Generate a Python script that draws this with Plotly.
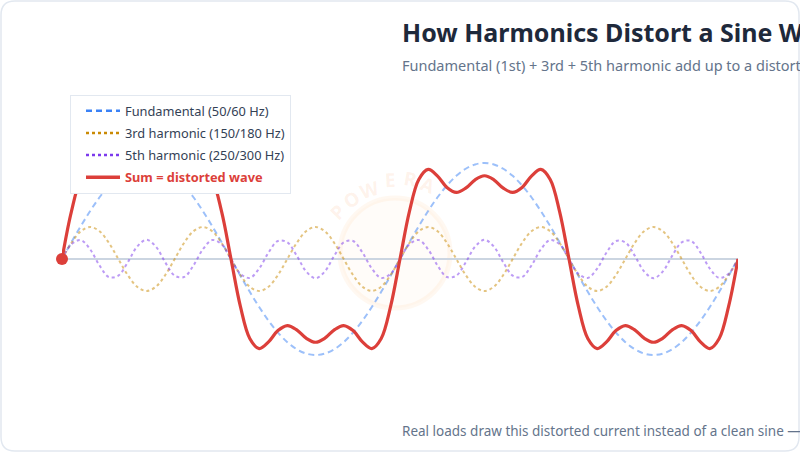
import plotly.graph_objects as go

# Phase in degrees (two full cycles of the fundamental)
phase_deg = [0, 10, 20, 30, 40, 50, 60, 70, 80, 90, 100, 110, 120, 130, 140, 150, 160, 170,
             180, 190, 200, 210, 220, 230, 240, 250, 260, 270, 280, 290, 300, 310, 320, 330, 340, 350,
             360, 370, 380, 390, 400, 410, 420, 430, 440, 450, 460, 470, 480, 490, 500, 510, 520, 530,
             540, 550, 560, 570, 580, 590, 600, 610, 620, 630, 640, 650, 660, 670, 680, 690, 700, 710, 720]

fundamental = [0, .174, .342, .5, .643, .766, .866, .94, .985, 1, .985, .94, .866, .766, .643, .5, .342, .174,
               0, -.174, -.342, -.5, -.643, -.766, -.866, -.94, -.985, -1, -.985, -.94, -.866, -.766, -.643, -.5, -.342, -.174,
               0, .174, .342, .5, .643, .766, .866, .94, .985, 1, .985, .94, .866, .766, .643, .5, .342, .174,
               0, -.174, -.342, -.5, -.643, -.766, -.866, -.94, -.985, -1, -.985, -.94, -.866, -.766, -.643, -.5, -.342, -.174, 0]

third = [0, .167, .289, .333, .289, .167, 0, -.167, -.289, -.333, -.289, -.167, 0, .167, .289, .333, .289, .167,
         0, -.167, -.289, -.333, -.289, -.167, 0, .167, .289, .333, .289, .167, 0, -.167, -.289, -.333, -.289, -.167,
         0, .167, .289, .333, .289, .167, 0, -.167, -.289, -.333, -.289, -.167, 0, .167, .289, .333, .289, .167,
         0, -.167, -.289, -.333, -.289, -.167, 0, .167, .289, .333, .289, .167, 0, -.167, -.289, -.333, -.289, -.167, 0]

fifth = [0, .153, .197, .1, -.068, -.188, -.173, -.035, .129, .2, .129, -.035, -.173, -.188, -.068, .1, .197, .153,
         0, -.153, -.197, -.1, .068, .188, .173, .035, -.129, -.2, -.129, .035, .173, .188, .068, -.1, -.197, -.153,
         0, .153, .197, .1, -.068, -.188, -.173, -.035, .129, .2, .129, -.035, -.173, -.188, -.068, .1, .197, .153,
         0, -.153, -.197, -.1, .068, .188, .173, .035, -.129, -.2, -.129, .035, .173, .188, .068, -.1, -.197, -.153, 0]

distorted = [0, .494, .828, .933, .863, .745, .693, .738, .825, .867, .825, .738, .693, .745, .863, .933, .828, .494,
             0, -.494, -.828, -.933, -.863, -.745, -.693, -.738, -.825, -.867, -.825, -.738, -.693, -.745, -.863, -.933, -.828, -.494,
             0, .494, .828, .933, .863, .745, .693, .738, .825, .867, .825, .738, .693, .745, .863, .933, .828, .494,
             0, -.494, -.828, -.933, -.863, -.745, -.693, -.738, -.825, -.867, -.825, -.738, -.693, -.745, -.863, -.933, -.828, -.494, 0]

series_names = ["Fundamental (50/60 Hz)", "3rd harmonic (150/180 Hz)", "5th harmonic (250/300 Hz)"]
sum_name = "Sum = distorted wave"

W, H = 800, 452
ML, MR, MT, MB = 62, 62, 115, 49
PW, PH = W - ML - MR, H - MT - MB


def px(x):
    return (x - ML) / PW


def py(y):
    return (H - MB - y) / PH


BLUE = "#3b82f6"
GOLD = "#ca8a04"
PURPLE = "#7c3aed"
RED = "#dc3f3a"

fig = go.Figure()

styles = [(fundamental, BLUE, "6px,4px"), (third, GOLD, "3px,3px"), (fifth, PURPLE, "3px,3px")]
for (vals, col, dash), name in zip(styles, series_names):
    fig.add_trace(go.Scatter(x=phase_deg, y=vals, mode="lines", line=dict(color=col, width=2, dash=dash, shape="spline"),
                             opacity=0.5, showlegend=False, hoverinfo="skip"))

fig.add_trace(go.Scatter(x=phase_deg, y=distorted, mode="lines",
                         line=dict(color=RED, width=3.2, shape="spline"), showlegend=False, hoverinfo="skip"))
fig.add_trace(go.Scatter(x=phase_deg[:1], y=distorted[:1], mode="markers", cliponaxis=False,
                         marker=dict(color=RED, size=12), showlegend=False, hoverinfo="skip"))

# legend entries
for i, ((vals, col, dash), name) in enumerate(zip(styles, series_names)):
    fig.add_trace(go.Scatter(x=[None], y=[None], mode="lines", name=name, legendgroup=f"g{i}",
                             line=dict(color=col, width=2.5, dash=dash)))
fig.add_trace(go.Scatter(x=[None], y=[None], mode="lines", legendgroup="g3",
                         name=f"<b><span style='color:{RED}'>{sum_name}</span></b>",
                         line=dict(color=RED, width=3.5)))

# card outline with rounded corners
r = 14
x0, x1, y0, y1 = 1, W - 1, 1, H - 1
path = (f"M{px(x0 + r)},{py(y0)} L{px(x1 - r)},{py(y0)} Q{px(x1)},{py(y0)} {px(x1)},{py(y0 + r)} "
        f"L{px(x1)},{py(y1 - r)} Q{px(x1)},{py(y1)} {px(x1 - r)},{py(y1)} "
        f"L{px(x0 + r)},{py(y1)} Q{px(x0)},{py(y1)} {px(x0)},{py(y1 - r)} "
        f"L{px(x0)},{py(y0 + r)} Q{px(x0)},{py(y0)} {px(x0 + r)},{py(y0)} Z")
shapes = [dict(type="path", path=path, xref="paper", yref="paper", line=dict(color="#e2e8f0", width=1.5),
               fillcolor="rgba(0,0,0,0)", layer="below")]

# faint watermark
shapes.append(dict(type="circle", xref="paper", yref="paper", x0=px(340), x1=px(450), y0=py(308), y1=py(198),
                   line=dict(color="rgba(251,191,120,0.10)", width=5), fillcolor="rgba(253,230,200,0.10)", layer="below"))

annotations = [
    dict(text="<b>How Harmonics Distort a Sine Wave</b>", x=px(400), y=py(32), xref="paper", yref="paper",
         xanchor="left", yanchor="middle", showarrow=False, font=dict(size=25, color="#1e293b", family="Noto Sans")),
    dict(text="Fundamental (1st) + 3rd + 5th harmonic add up to a distorted wave", x=px(400), y=py(65),
         xref="paper", yref="paper", xanchor="left", yanchor="middle", showarrow=False,
         font=dict(size=14.5, color="#64748b", family="Noto Sans")),
    dict(text="Real loads draw this distorted current instead of a clean sine — that is harmonic distortion",
         x=px(400), y=py(431), xref="paper", yref="paper", xanchor="left", yanchor="middle", showarrow=False,
         font=dict(size=13.5, color="#64748b", family="Noto Sans")),
]

wm_letters = [("P", 338, 196, -45), ("O", 351, 182, -32), ("W", 369, 172, -17), ("E", 390, 165, -3),
              ("R", 410, 163, 10), ("A", 428, 168, 22)]
for ch, lx, ly, ang in wm_letters:
    annotations.append(dict(text=f"<b>{ch}</b>", x=px(lx), y=py(ly), xref="paper", yref="paper", showarrow=False,
                            textangle=ang, font=dict(size=19, color="rgba(249,160,110,0.14)", family="Noto Sans")))

fig.update_layout(
    width=W, height=H,
    margin=dict(l=ML, r=MR, t=MT, b=MB),
    paper_bgcolor="white", plot_bgcolor="white",
    xaxis=dict(range=[0, 720], visible=False, fixedrange=True),
    yaxis=dict(range=[-1.5, 1.5], showgrid=False, showticklabels=False, ticks="", showline=False,
               zeroline=True, zerolinecolor="#cbd5e1", zerolinewidth=1.5, fixedrange=True),
    showlegend=True,
    legend=dict(x=px(70), y=py(95), xanchor="left", yanchor="top", bgcolor="white",
                bordercolor="#e2e8f0", borderwidth=1, font=dict(size=12.8, color="#334155", family="Noto Sans"),
                tracegroupgap=2.5, itemwidth=34, indentation=10, traceorder="grouped"),
    shapes=shapes,
    annotations=annotations,
)

fig.write_html("out.html", config={"displayModeBar": False},
               post_script="document.body.style.margin='0px';")
